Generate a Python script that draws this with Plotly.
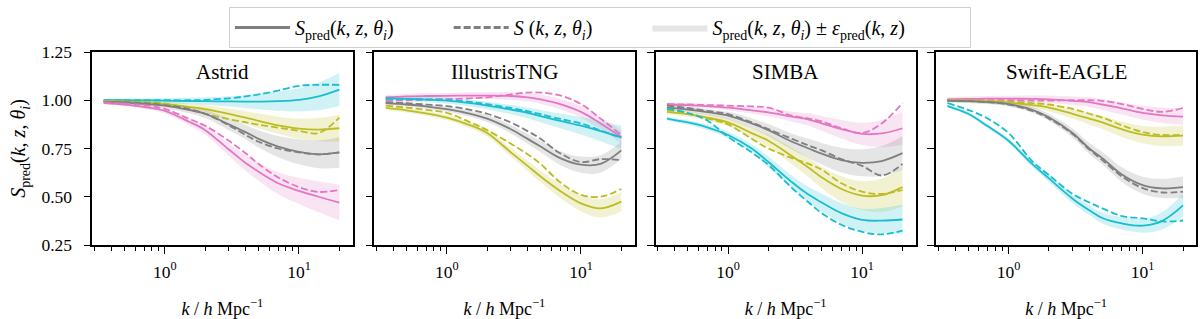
import plotly.graph_objects as go

# ---------------- data ----------------
k = [0.35, 0.5, 0.7, 1.0, 1.5, 2.0, 3.0, 4.0, 5.0, 7.0, 10.0, 14.0, 20.0]

sims = ["Astrid", "IllustrisTNG", "SIMBA", "Swift-EAGLE"]
colors = {"cyan": "#17becf", "olive": "#bcbd22", "gray": "#7f7f7f", "pink": "#e377c2"}
band_colors = {"cyan": "rgba(23,190,207,0.2)", "olive": "rgba(188,189,34,0.2)",
               "gray": "rgba(127,127,127,0.2)", "pink": "rgba(227,119,194,0.2)"}

# Astrid
astrid_cyan_pred = [1.0, 1.0, 0.999, 0.998, 0.996, 0.995, 0.994, 0.993, 0.993, 0.995, 1.002, 1.02, 1.055]
astrid_cyan_true = [1.0, 1.0, 1.0, 1.0, 1.0, 1.002, 1.01, 1.02, 1.03, 1.05, 1.075, 1.08, 1.08]
astrid_cyan_eps = [0.005, 0.007, 0.01, 0.013, 0.017, 0.02, 0.027, 0.033, 0.04, 0.05, 0.06, 0.072, 0.085]
astrid_olive_pred = [0.995, 0.993, 0.988, 0.98, 0.966, 0.954, 0.93, 0.91, 0.893, 0.87, 0.853, 0.848, 0.855]
astrid_olive_true = [0.995, 0.993, 0.99, 0.983, 0.955, 0.93, 0.902, 0.886, 0.873, 0.858, 0.842, 0.83, 0.91]
astrid_olive_eps = [0.005, 0.007, 0.01, 0.013, 0.017, 0.02, 0.027, 0.033, 0.038, 0.045, 0.052, 0.06, 0.07]
astrid_gray_pred = [0.992, 0.988, 0.981, 0.972, 0.95, 0.93, 0.875, 0.835, 0.80, 0.76, 0.733, 0.72, 0.73]
astrid_gray_true = [0.993, 0.99, 0.985, 0.975, 0.955, 0.93, 0.87, 0.82, 0.785, 0.75, 0.73, 0.72, 0.73]
astrid_gray_eps = [0.005, 0.007, 0.01, 0.013, 0.017, 0.022, 0.03, 0.037, 0.045, 0.055, 0.065, 0.072, 0.08]
astrid_pink_pred = [0.985, 0.977, 0.965, 0.945, 0.89, 0.845, 0.745, 0.675, 0.63, 0.57, 0.53, 0.50, 0.47]
astrid_pink_true = [0.99, 0.983, 0.975, 0.955, 0.905, 0.868, 0.79, 0.725, 0.67, 0.60, 0.55, 0.525, 0.535]
astrid_pink_eps = [0.005, 0.007, 0.01, 0.013, 0.018, 0.023, 0.032, 0.04, 0.047, 0.057, 0.068, 0.08, 0.092]

# IllustrisTNG
tng_pink_pred = [1.015, 1.02, 1.022, 1.023, 1.024, 1.024, 1.022, 1.015, 1.005, 0.98, 0.94, 0.88, 0.81]
tng_pink_true = [1.0, 1.0, 1.003, 1.006, 1.01, 1.015, 1.03, 1.04, 1.04, 1.025, 0.98, 0.905, 0.82]
tng_pink_eps = [0.012, 0.013, 0.014, 0.015, 0.017, 0.018, 0.02, 0.022, 0.024, 0.027, 0.03, 0.032, 0.035]
tng_cyan_pred = [1.01, 1.007, 1.003, 0.998, 0.985, 0.972, 0.952, 0.935, 0.918, 0.893, 0.868, 0.84, 0.808]
tng_cyan_true = [1.008, 1.007, 1.005, 1.002, 0.992, 0.98, 0.96, 0.943, 0.928, 0.903, 0.88, 0.843, 0.805]
tng_cyan_eps = [0.012, 0.013, 0.014, 0.016, 0.018, 0.02, 0.024, 0.028, 0.032, 0.038, 0.045, 0.052, 0.06]
tng_gray_pred = [0.985, 0.978, 0.968, 0.954, 0.93, 0.905, 0.85, 0.80, 0.76, 0.70, 0.666, 0.67, 0.74]
tng_gray_true = [0.99, 0.985, 0.978, 0.97, 0.95, 0.93, 0.885, 0.84, 0.80, 0.725, 0.68, 0.695, 0.69]
tng_gray_eps = [0.01, 0.011, 0.012, 0.014, 0.016, 0.018, 0.022, 0.026, 0.03, 0.036, 0.042, 0.045, 0.045]
tng_olive_pred = [0.96, 0.948, 0.932, 0.91, 0.87, 0.83, 0.73, 0.66, 0.605, 0.53, 0.466, 0.44, 0.475]
tng_olive_true = [0.972, 0.962, 0.95, 0.935, 0.885, 0.845, 0.775, 0.72, 0.67, 0.575, 0.51, 0.50, 0.54]
tng_olive_eps = [0.01, 0.011, 0.012, 0.014, 0.016, 0.018, 0.022, 0.026, 0.03, 0.036, 0.042, 0.048, 0.05]

# SIMBA
simba_pink_pred = [0.978, 0.975, 0.97, 0.962, 0.948, 0.937, 0.915, 0.90, 0.88, 0.85, 0.826, 0.828, 0.855]
simba_pink_true = [0.98, 0.978, 0.975, 0.972, 0.968, 0.962, 0.92, 0.905, 0.89, 0.855, 0.83, 0.88, 0.985]
simba_pink_eps = [0.01, 0.011, 0.012, 0.014, 0.017, 0.02, 0.026, 0.032, 0.038, 0.048, 0.058, 0.07, 0.085]
simba_gray_pred = [0.962, 0.952, 0.938, 0.92, 0.88, 0.845, 0.785, 0.75, 0.723, 0.69, 0.676, 0.685, 0.726]
simba_gray_true = [0.972, 0.96, 0.945, 0.928, 0.885, 0.85, 0.80, 0.765, 0.74, 0.695, 0.66, 0.61, 0.67]
simba_gray_eps = [0.012, 0.014, 0.016, 0.02, 0.026, 0.032, 0.042, 0.05, 0.056, 0.064, 0.07, 0.078, 0.088]
simba_olive_pred = [0.94, 0.928, 0.91, 0.885, 0.83, 0.79, 0.71, 0.65, 0.60, 0.54, 0.506, 0.508, 0.55]
simba_olive_true = [0.95, 0.93, 0.905, 0.875, 0.80, 0.75, 0.70, 0.67, 0.64, 0.57, 0.526, 0.515, 0.535]
simba_olive_eps = [0.012, 0.014, 0.016, 0.02, 0.026, 0.032, 0.042, 0.05, 0.056, 0.066, 0.075, 0.087, 0.1]
simba_cyan_pred = [0.905, 0.885, 0.86, 0.82, 0.75, 0.68, 0.575, 0.51, 0.47, 0.415, 0.38, 0.376, 0.382]
simba_cyan_true = [0.955, 0.935, 0.895, 0.81, 0.73, 0.665, 0.545, 0.47, 0.415, 0.355, 0.318, 0.305, 0.325]
simba_cyan_eps = [0.01, 0.012, 0.014, 0.017, 0.022, 0.027, 0.034, 0.04, 0.045, 0.052, 0.058, 0.066, 0.078]

# Swift-EAGLE
eagle_pink_pred = [1.005, 1.007, 1.008, 1.008, 1.007, 1.005, 0.997, 0.99, 0.978, 0.958, 0.935, 0.922, 0.915]
eagle_pink_true = [1.0, 1.0, 1.0, 1.0, 0.998, 0.998, 1.0, 1.0, 0.997, 0.98, 0.955, 0.94, 0.96]
eagle_pink_eps = [0.012, 0.013, 0.014, 0.015, 0.017, 0.019, 0.022, 0.025, 0.028, 0.032, 0.036, 0.04, 0.042]
eagle_olive_pred = [0.998, 0.997, 0.994, 0.988, 0.975, 0.962, 0.93, 0.905, 0.885, 0.85, 0.822, 0.813, 0.817]
eagle_olive_true = [1.0, 1.0, 0.998, 0.993, 0.985, 0.978, 0.955, 0.93, 0.91, 0.87, 0.835, 0.82, 0.822]
eagle_olive_eps = [0.01, 0.011, 0.012, 0.014, 0.017, 0.02, 0.025, 0.03, 0.034, 0.04, 0.045, 0.05, 0.052]
eagle_gray_pred = [0.998, 0.995, 0.99, 0.98, 0.95, 0.912, 0.83, 0.75, 0.70, 0.615, 0.56, 0.543, 0.55]
eagle_gray_true = [0.998, 0.995, 0.99, 0.978, 0.945, 0.905, 0.825, 0.745, 0.69, 0.605, 0.545, 0.522, 0.527]
eagle_gray_eps = [0.008, 0.009, 0.01, 0.012, 0.015, 0.018, 0.023, 0.028, 0.032, 0.038, 0.044, 0.05, 0.055]
eagle_cyan_pred = [0.97, 0.93, 0.865, 0.79, 0.67, 0.595, 0.49, 0.43, 0.39, 0.362, 0.35, 0.375, 0.455]
eagle_cyan_true = [0.985, 0.95, 0.905, 0.83, 0.685, 0.612, 0.515, 0.47, 0.44, 0.40, 0.388, 0.372, 0.377]
eagle_cyan_eps = [0.008, 0.009, 0.01, 0.012, 0.015, 0.018, 0.022, 0.025, 0.028, 0.032, 0.036, 0.045, 0.06]

panels = [
    [("cyan", astrid_cyan_pred, astrid_cyan_true, astrid_cyan_eps),
     ("olive", astrid_olive_pred, astrid_olive_true, astrid_olive_eps),
     ("gray", astrid_gray_pred, astrid_gray_true, astrid_gray_eps),
     ("pink", astrid_pink_pred, astrid_pink_true, astrid_pink_eps)],
    [("pink", tng_pink_pred, tng_pink_true, tng_pink_eps),
     ("cyan", tng_cyan_pred, tng_cyan_true, tng_cyan_eps),
     ("gray", tng_gray_pred, tng_gray_true, tng_gray_eps),
     ("olive", tng_olive_pred, tng_olive_true, tng_olive_eps)],
    [("pink", simba_pink_pred, simba_pink_true, simba_pink_eps),
     ("gray", simba_gray_pred, simba_gray_true, simba_gray_eps),
     ("olive", simba_olive_pred, simba_olive_true, simba_olive_eps),
     ("cyan", simba_cyan_pred, simba_cyan_true, simba_cyan_eps)],
    [("pink", eagle_pink_pred, eagle_pink_true, eagle_pink_eps),
     ("olive", eagle_olive_pred, eagle_olive_true, eagle_olive_eps),
     ("gray", eagle_gray_pred, eagle_gray_true, eagle_gray_eps),
     ("cyan", eagle_cyan_pred, eagle_cyan_true, eagle_cyan_eps)],
]

ytick_vals = [0.25, 0.50, 0.75, 1.00, 1.25]
ytick_text = ["0.25", "0.50", "0.75", "1.00", "1.25"]
xtick_vals = [1, 10]
xtick_text = ["10<sup>0</sup>", "10<sup>1</sup>"]
minor_vals = [0.3, 0.4, 0.5, 0.6, 0.7, 0.8, 0.9, 2, 3, 4, 5, 6, 7, 8, 9, 20]

# ---------------- figure ----------------
W, H = 1200, 319
FONT = "Liberation Serif"
dom_px = [(92.3, 352.6), (374.3, 634.6), (655.5, 915.8), (936.0, 1196.3)]
mt, mb = 52, 74
DASH = "7px,3px"

fig = go.Figure()

for i, series in enumerate(panels):
    ax = "" if i == 0 else str(i + 1)
    for cname, pred, true, eps in series:
        up = [p + e for p, e in zip(pred, eps)]
        lo = [p - e for p, e in zip(pred, eps)]
        fig.add_trace(go.Scatter(x=k, y=up, mode="lines", line=dict(width=0, shape="spline"),
                                 showlegend=False, hoverinfo="skip", xaxis="x" + ax, yaxis="y" + ax))
        fig.add_trace(go.Scatter(x=k, y=lo, mode="lines", line=dict(width=0, shape="spline"),
                                 fill="tonexty", fillcolor=band_colors[cname],
                                 showlegend=False, hoverinfo="skip", xaxis="x" + ax, yaxis="y" + ax))
    for cname, pred, true, eps in series:
        fig.add_trace(go.Scatter(x=k, y=pred, mode="lines",
                                 line=dict(color=colors[cname], width=1.8, shape="spline"),
                                 showlegend=False, xaxis="x" + ax, yaxis="y" + ax))
        fig.add_trace(go.Scatter(x=k, y=true, mode="lines",
                                 line=dict(color=colors[cname], width=1.8, shape="spline", dash=DASH),
                                 showlegend=False, xaxis="x" + ax, yaxis="y" + ax))

# legend entries
NB = "\u00a0"
lab_pred = "<i>S</i><sub>pred</sub>(<i>k</i>, <i>z</i>, <i>θ<sub>i</sub></i>)"
lab_true = "<i>S</i>" + NB + "(<i>k</i>, <i>z</i>, <i>θ<sub>i</sub></i>)"
lab_band = "<i>S</i><sub>pred</sub>(<i>k</i>, <i>z</i>, <i>θ<sub>i</sub></i>) ± <i>ε</i><sub>pred</sub>(<i>k</i>, <i>z</i>)"
fig.add_trace(go.Scatter(x=[None], y=[None], mode="lines", name=lab_pred + NB * 10,
                         line=dict(color="#7f7f7f", width=3)))
fig.add_trace(go.Scatter(x=[None], y=[None], mode="lines", name=lab_true + NB * 10,
                         line=dict(color="#7f7f7f", width=3, dash=DASH)))
fig.add_trace(go.Scatter(x=[None, None], y=[None, None], mode="lines", name=lab_band + NB * 12,
                         fill="toself", fillcolor="rgba(127,127,127,0.2)", line=dict(width=0)))

layout = dict(
    width=W, height=H,
    margin=dict(l=0, r=0, t=mt, b=mb, autoexpand=False),
    paper_bgcolor="white", plot_bgcolor="white",
    font=dict(family=FONT, size=17, color="black"),
    legend=dict(orientation="h", x=0.5, xanchor="center", y=1.0 + (mt - 7) / (H - mt - mb),
                yanchor="top", bordercolor="#d0d0d0", borderwidth=1, bgcolor="white",
                traceorder="normal", font=dict(family=FONT, size=20), itemwidth=55),
    annotations=[],
)

for i in range(4):
    sx = "" if i == 0 else str(i + 1)
    x0, x1 = dom_px[i]
    layout["xaxis" + sx] = dict(
        type="log", domain=[x0 / W, x1 / W], range=[-0.541, 1.40],
        anchor="y" + sx, showgrid=False, zeroline=False, automargin=False,
        showline=True, linecolor="black", linewidth=1.5, mirror=True,
        ticks="outside", ticklen=7, tickwidth=1.3, tickcolor="black",
        tickmode="array", tickvals=xtick_vals, ticktext=xtick_text,
        tickfont=dict(family=FONT, size=17.5), ticklabelstandoff=3,
        minor=dict(tickmode="array", tickvals=minor_vals, ticks="outside", ticklen=4,
                   tickwidth=0.9, tickcolor="black", showgrid=False),
        title=dict(text="<i>k</i> / <i>h</i>" + NB + "Mpc<sup>−1</sup>", font=dict(family=FONT, size=18),
                   standoff=22),
    )
    layout["yaxis" + sx] = dict(
        domain=[0, 1], range=[0.25, 1.25], anchor="x" + sx, automargin=False,
        showgrid=False, zeroline=False,
        showline=True, linecolor="black", linewidth=1.5, mirror=True,
        ticks="outside", ticklen=7, tickwidth=1.3, tickcolor="black",
        tickmode="array", tickvals=ytick_vals, ticktext=ytick_text,
        showticklabels=(i == 0), tickfont=dict(family=FONT, size=17.5), ticklabelstandoff=8,
    )
    layout["annotations"].append(dict(
        text=sims[i], xref="paper", yref="paper",
        x=(x0 + x1) / 2 / W, y=(H - mb - 72) / (H - mt - mb),
        xanchor="center", yanchor="middle", showarrow=False,
        font=dict(family=FONT, size=21, color="black")))

layout["yaxis"]["title"] = dict(text=lab_pred, font=dict(family=FONT, size=20), standoff=10)

fig.update_layout(**layout)
fig.write_html("out.html", config={"displayModeBar": False},
               post_script="document.body.style.margin='0px';")
